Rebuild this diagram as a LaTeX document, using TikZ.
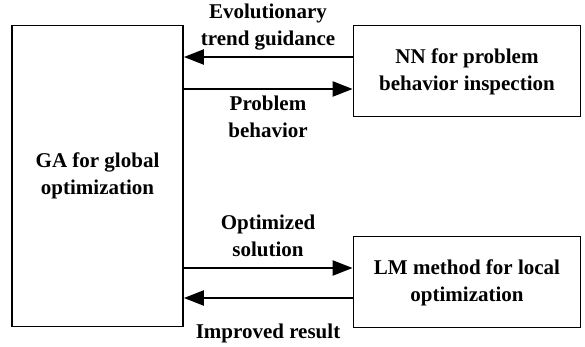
\documentclass[tikz,border=0pt]{standalone}
\usepackage{fontspec}
\setmainfont{Liberation Serif}
\usetikzlibrary{arrows.meta}
\begin{document}
\begin{tikzpicture}[x=1pt,y=-1pt,
  box/.style={draw,line width=1.8pt,inner sep=0pt},
  lbl/.style={font=\bfseries\fontsize{21}{27}\selectfont,align=center,inner sep=0pt},
  conn/.style={line width=2.4pt,-{Triangle[length=20pt,width=15pt]}}]
\useasboundingbox (0,0) rectangle (585,347);
\node[box,minimum width=171pt,minimum height=301pt] (ga) at (97.5,176) {};
\node[lbl] (gat) at (97.5,176) {GA for global\\optimization};
\node[box,minimum width=227pt,minimum height=91pt] (nn) at (467,71) {};
\node[lbl] (nnt) at (467,71.5) {NN for problem\\behavior inspection};
\node[box,minimum width=227pt,minimum height=91pt] (lm) at (467,282) {};
\node[lbl] (lmt) at (467,283) {LM method for local\\optimization};
\coordinate (a1) at (nn.west |- 0,57);
\coordinate (b1) at (ga.east |- 0,57);
\coordinate (a2) at (ga.east |- 0,89);
\coordinate (b2) at (nn.west |- 0,89);
\coordinate (a3) at (ga.east |- 0,268);
\coordinate (b3) at (lm.west |- 0,268);
\coordinate (a4) at (lm.west |- 0,298);
\coordinate (b4) at (ga.east |- 0,298);
\draw[conn] (a1) -- (b1);
\draw[conn] (a2) -- (b2);
\draw[conn] (a3) -- (b3);
\draw[conn] (a4) -- (b4);
\node[lbl] (l1) at (268,27) {Evolutionary\\trend guidance};
\node[lbl] (l2) at (268,117) {Problem\\behavior};
\node[lbl] (l3) at (268,236) {Optimized\\solution};
\node[lbl] (l4) at (268,333) {Improved result};
\end{tikzpicture}
\end{document}
